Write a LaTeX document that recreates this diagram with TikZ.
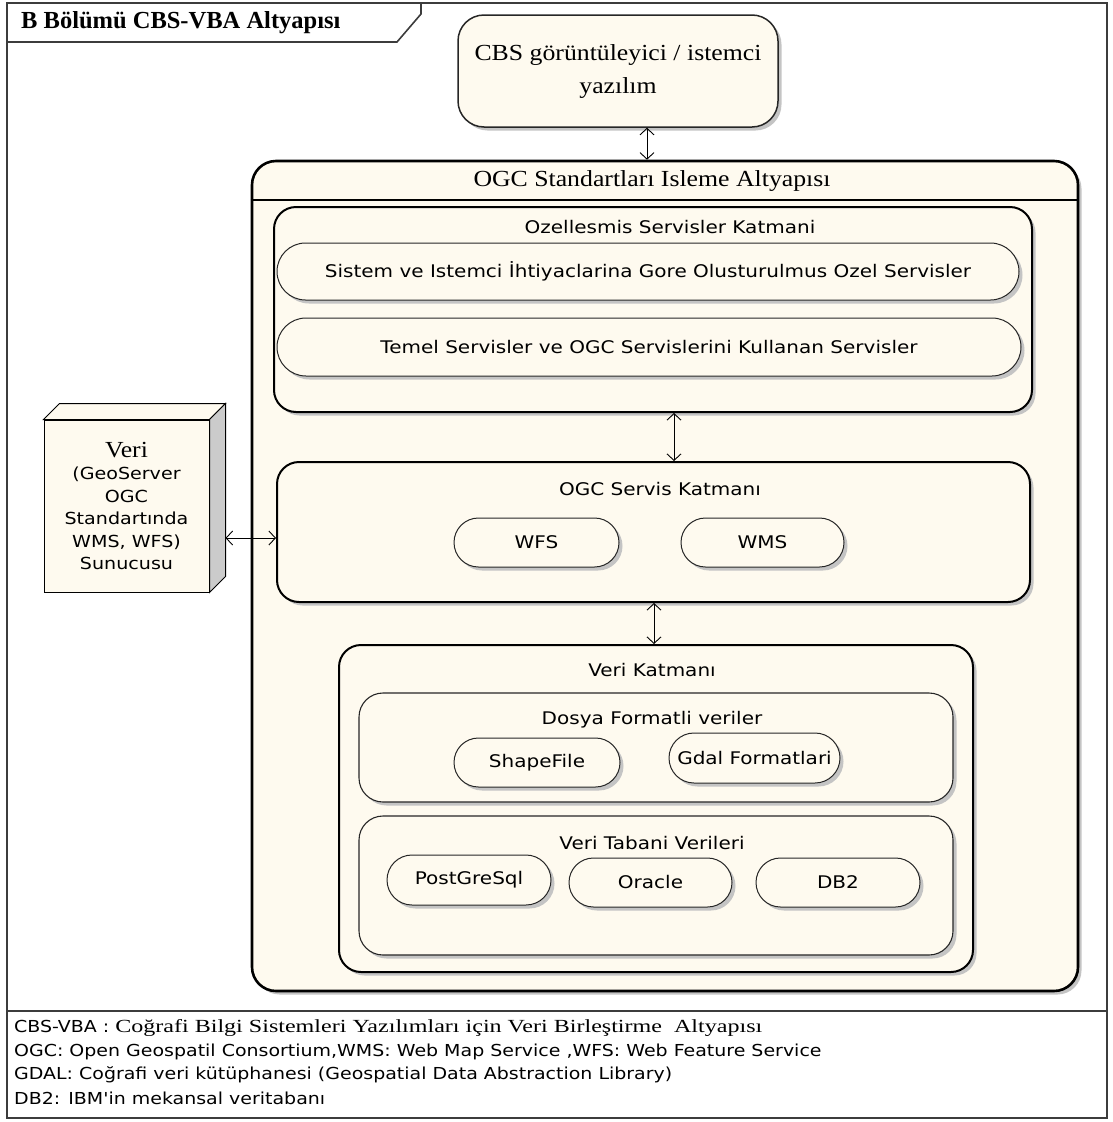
\documentclass[tikz,border=0pt]{standalone}
\usepackage{fontspec}
\setmainfont{Liberation Serif}
\newfontfamily\tmsfont[FakeStretch=1.12]{Liberation Serif}
\newfontfamily\tmsgenis[FakeStretch=1.3]{Liberation Serif}
\newfontfamily\dvgenis[FakeStretch=1.15]{DejaVu Sans}
\usetikzlibrary{arrows.meta,positioning,calc,shapes.misc,shadows}
\definecolor{krem}{HTML}{FEFAEF}
\definecolor{golge}{HTML}{C4C4C4}
\definecolor{yan}{HTML}{CBCBCB}
\definecolor{cercevegri}{HTML}{3C3C3C}
\newcommand\buyukserif{\tmsfont\fontsize{23}{33}\selectfont}
\newcommand\etiket{\dvgenis\fontsize{17.4}{21}\selectfont}
\newcommand\etiketb{\dvgenis\fontsize{16.6}{22.5}\selectfont}
\newcommand\dipnot{\dvgenis\fontsize{16.5}{20}\selectfont}
\newcommand\dipnotserif{\tmsgenis\fontsize{18.5}{20}\selectfont}
\tikzset{
  >={Straight Barb[length=6.5pt,width=14pt,line width=0.9pt]},
  % kutular
  golgeli/.style={drop shadow={shadow xshift=3.5pt,shadow yshift=-3.5pt,fill=golge,opacity=1}},
  anakutu/.style={draw=black,fill=krem,line width=2.6pt,rounded corners=24pt,inner sep=0pt,golgeli},
  katman/.style={draw=black,fill=krem,line width=2pt,rounded corners=22pt,inner sep=0pt,golgeli},
  altkutu/.style={draw=black!85,fill=krem,line width=1.1pt,rounded corners=24pt,inner sep=0pt,golgeli},
  hap/.style={rounded rectangle,draw=black!85,fill=krem,line width=1pt,inner sep=0pt,golgeli,font=\etiket},
  istemci/.style={draw=black!85,fill=krem,line width=1.5pt,rounded corners=26pt,inner sep=0pt,golgeli},
  sunucu/.style={draw=black,fill=krem,line width=1pt,inner sep=0pt,align=center,font=\etiketb},
  yazi/.style={inner sep=0pt,font=\etiket},
  dipyazi/.style={anchor=west,inner sep=0pt,font=\dipnot},
  % cizgiler
  cerceve/.style={draw=cercevegri,line width=1.6pt},
  cift/.style={<->,line width=0.9pt},
}
\begin{document}
\begin{tikzpicture}[x=1pt,y=-1pt]
  \useasboundingbox (0,0) rectangle (1112,1122);
  % cerceve ve baslik
  \draw[cerceve] (7,3) rectangle (1107,1118);
  \draw[cerceve] (7,1011) -- (1107,1011);
  \draw[cerceve] (7,42) -- (397,42) -- (421,14) -- (421,3);
  \node[anchor=west,inner sep=0pt,font=\bfseries\fontsize{24.5}{28}\selectfont] (baslik) at (21,23) {B Bölümü CBS-VBA Altyapısı};

  % istemci
  \node[istemci,minimum width=320pt,minimum height=112pt,align=center,font=\buyukserif] (cbs) at (618,71) {CBS görüntüleyici / istemci\\yazılım};

  % OGC altyapisi
  \node[anakutu,minimum width=826pt,minimum height=830pt] (ogc) at (665,576) {};
  \coordinate (ust) at (0,200);
  \draw[line width=2.2pt] (ogc.west |- ust) -- (ogc.east |- ust);
  \node[yazi,font=\buyukserif] (ogcbaslik) at (652,181) {OGC Standartları Isleme Altyapısı};

  % ozellesmis servisler
  \node[katman,minimum width=758pt,minimum height=205pt] (ozel) at (653,309.5) {};
  \node[yazi] (ozelbaslik) at (670,227) {Ozellesmis Servisler Katmani};
  \node[hap,minimum width=742pt,minimum height=57pt] (sistem) at (648,271.5) {Sistem ve Istemci İhtiyaclarina Gore Olusturulmus Ozel Servisler};
  \node[hap,minimum width=744pt,minimum height=58pt] (temel) at (649,347) {Temel Servisler ve OGC Servislerini Kullanan Servisler};

  % OGC servis katmani
  \node[katman,minimum width=753pt,minimum height=140pt] (osk) at (653.5,532) {};
  \node[yazi] (oskbaslik) at (660,489) {OGC Servis Katmanı};
  \node[hap,minimum width=165pt,minimum height=49pt] (wfs) at (536.5,542.5) {WFS};
  \node[hap,minimum width=163pt,minimum height=49pt] (wms) at (762.5,542.5) {WMS};

  % veri katmani
  \node[katman,minimum width=634pt,minimum height=327pt] (vk) at (656,808.5) {};
  \node[yazi] (vkbaslik) at (652,670) {Veri Katmanı};
  \node[altkutu,minimum width=594pt,minimum height=109pt] (dosya) at (656,747.5) {};
  \node[yazi] (dosyabaslik) at (652,720) {Dosya Formatli veriler};
  \node[hap,minimum width=166pt,minimum height=49pt] (shp) at (537,762.5) {ShapeFile};
  \node[hap,minimum width=171pt,minimum height=50pt] (gdal) at (754.5,758) {Gdal Formatlari};
  \node[altkutu,minimum width=594pt,minimum height=139pt] (vt) at (656,885.5) {};
  \node[yazi] (vtbaslik) at (652,843) {Veri Tabani Verileri};
  \node[hap,minimum width=164pt,minimum height=50pt] (pg) at (469,880) {PostGreSql};
  \node[hap,minimum width=163pt,minimum height=49pt] (ora) at (650.5,882.5) {Oracle};
  \node[hap,minimum width=164pt,minimum height=49pt] (db2) at (838,882.5) {DB2};

  % sunucu
  \node[sunucu,minimum width=165pt,minimum height=172pt] (veri) at (126.5,506) {{\buyukserif Veri}\\(GeoServer\\OGC\\Standartında\\WMS, WFS)\\Sunucusu};
  \coordinate (vsag) at ($(veri.north east)+(16,-16)$);
  \draw[line width=1pt,fill=krem] (veri.north west) -- ++(16,-16) -- (vsag) -- (veri.north east) -- cycle;
  \draw[line width=1pt,fill=yan] (veri.north east) -- (vsag) -- ++(0,173) -- (veri.south east) -- cycle;

  % baglantilar
  \coordinate (o1) at (647,0);
  \coordinate (o2) at (674,0);
  \coordinate (o3) at (654,0);
  \coordinate (o4) at (0,538);
  \draw[cift] (cbs.south -| o1) -- (ogc.north -| o1);
  \draw[cift] (ozel.south -| o2) -- (osk.north -| o2);
  \draw[cift] (osk.south -| o3) -- (vk.north -| o3);
  \draw[cift] (vsag |- o4) -- (osk.west |- o4);

  % aciklamalar
  \node[dipyazi] (d1) at (14,1028) {CBS-VBA : {\dipnotserif Coğrafi Bilgi Sistemleri Yazılımları için Veri Birleştirme\ \ Altyapısı}};
  \node[dipyazi] (d2) at (14,1052) {OGC: Open Geospatil Consortium,WMS: Web Map Service ,WFS: Web Feature Service};
  \node[dipyazi] (d3) at (14,1075) {GDAL: Coğrafi veri kütüphanesi (Geospatial Data Abstraction Library)};
  \node[dipyazi] (d4) at (14,1098) {DB2: IBM'in mekansal veritabanı};
\end{tikzpicture}
\end{document}
